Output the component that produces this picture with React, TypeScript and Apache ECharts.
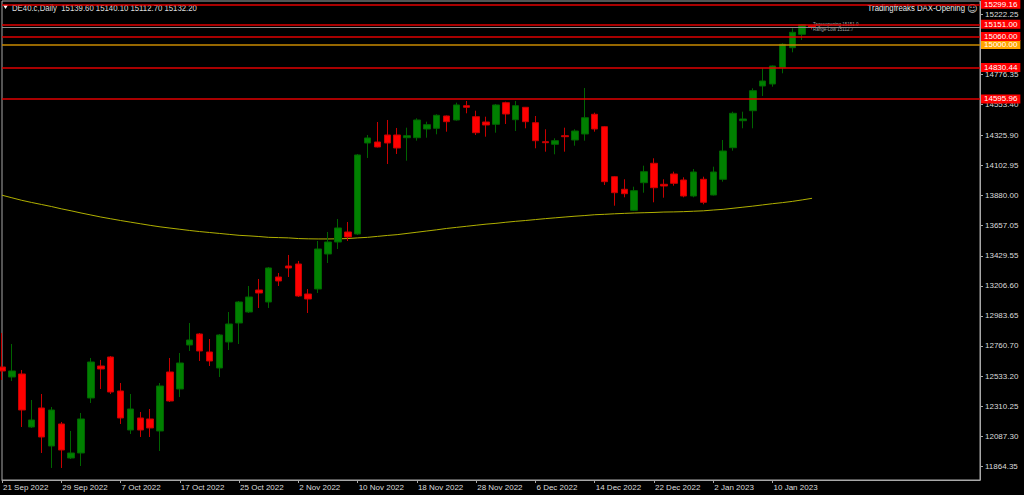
import React, { useEffect, useRef } from "react";
import * as echarts from "echarts";

const symbolName = "DE40.c,Daily";
const indicatorName = "Tradingfreaks DAX-Opening";

const dates = [
  "21 Sep 2022", "22 Sep 2022", "23 Sep 2022", "26 Sep 2022", "27 Sep 2022", "28 Sep 2022", "29 Sep 2022", "30 Sep 2022",
  "3 Oct 2022", "4 Oct 2022", "5 Oct 2022", "6 Oct 2022", "7 Oct 2022", "10 Oct 2022", "11 Oct 2022", "12 Oct 2022",
  "13 Oct 2022", "14 Oct 2022", "17 Oct 2022", "18 Oct 2022", "19 Oct 2022", "20 Oct 2022", "21 Oct 2022", "24 Oct 2022",
  "25 Oct 2022", "26 Oct 2022", "27 Oct 2022", "28 Oct 2022", "31 Oct 2022", "1 Nov 2022", "2 Nov 2022", "3 Nov 2022",
  "4 Nov 2022", "7 Nov 2022", "8 Nov 2022", "9 Nov 2022", "10 Nov 2022", "11 Nov 2022", "14 Nov 2022", "15 Nov 2022",
  "16 Nov 2022", "17 Nov 2022", "18 Nov 2022", "21 Nov 2022", "22 Nov 2022", "23 Nov 2022", "24 Nov 2022", "25 Nov 2022",
  "28 Nov 2022", "29 Nov 2022", "30 Nov 2022", "1 Dec 2022", "2 Dec 2022", "5 Dec 2022", "6 Dec 2022", "7 Dec 2022",
  "8 Dec 2022", "9 Dec 2022", "12 Dec 2022", "13 Dec 2022", "14 Dec 2022", "15 Dec 2022", "16 Dec 2022", "19 Dec 2022",
  "20 Dec 2022", "21 Dec 2022", "22 Dec 2022", "23 Dec 2022", "27 Dec 2022", "28 Dec 2022", "29 Dec 2022", "30 Dec 2022",
  "2 Jan 2023", "3 Jan 2023", "4 Jan 2023", "5 Jan 2023", "6 Jan 2023", "9 Jan 2023", "10 Jan 2023", "11 Jan 2023",
  "12 Jan 2023", "13 Jan 2023", "16 Jan 2023",
];

const opens = [
  12604.7, 12530.4, 12552.7, 12158.9, 12300.1, 12017.7, 12181.2, 11928.4, 11965.7, 12374.4,
  12612.1, 12679.0, 12426.4, 12136.6, 12225.8, 12218.5, 12129.2, 12567.5, 12441.2, 12768.2,
  12849.9, 12716.1, 12597.3, 12790.4, 12931.6, 13013.3, 13176.8, 13087.6, 13273.4, 13355.1,
  13370.0, 13147.1, 13184.2, 13444.3, 13533.4, 13607.7, 13592.9, 14269.0, 14276.4, 14328.4,
  14328.4, 14308.4, 14308.4, 14373.0, 14378.2, 14469.6, 14439.9, 14546.2, 14464.4, 14425.0,
  14408.0, 14568.4, 14442.1, 14534.3, 14419.8, 14278.7, 14259.3, 14323.3, 14291.3, 14335.9,
  14482.2, 14390.1, 14018.6, 13925.0, 13769.0, 13974.0, 14118.2, 13962.1, 14038.7, 13994.1,
  13875.2, 13999.3, 13882.6, 13999.3, 14234.1, 14434.7, 14509.0, 14692.5, 14707.4, 14828.5,
  14977.1, 15076.6, 15139.6,
];
const highs = [
  12857.3, 12775.6, 12582.4, 12359.5, 12404.1, 12307.5, 12196.0, 12129.2, 12263.0, 12671.6,
  12656.7, 12686.4, 12485.8, 12404.1, 12270.3, 12292.6, 12485.8, 12671.6, 12708.7, 12931.6,
  12857.3, 12812.7, 12849.9, 13013.3, 13095.1, 13206.5, 13258.5, 13347.7, 13303.1, 13436.9,
  13392.3, 13184.2, 13540.9, 13607.7, 13704.3, 13682.0, 14187.3, 14328.4, 14425.0, 14439.9,
  14380.5, 14382.7, 14452.5, 14427.3, 14482.2, 14473.3, 14568.4, 14581.1, 14509.0, 14464.4,
  14558.8, 14575.9, 14581.1, 14536.5, 14469.6, 14370.8, 14303.9, 14382.7, 14370.8, 14677.7,
  14494.1, 14395.3, 14023.8, 13999.3, 13944.3, 14100.3, 14155.3, 13999.3, 14055.7, 14014.1,
  14075.8, 14018.6, 14092.9, 14291.3, 14501.5, 14501.5, 14675.4, 14824.0, 14844.8, 15009.8,
  15121.2, 15153.2, 15140.1,
];
const lows = [
  12508.1, 12500.7, 12158.9, 12151.5, 11965.7, 11854.3, 11854.3, 11921.0, 11869.1, 12337.2,
  12441.2, 12404.1, 12181.2, 12107.0, 12084.6, 12084.6, 11980.6, 12344.6, 12381.8, 12723.6,
  12649.3, 12612.1, 12530.4, 12731.0, 12775.6, 13005.9, 13043.1, 13043.1, 13206.5, 13273.4,
  13124.8, 13005.9, 13154.5, 13377.4, 13481.4, 13540.9, 13585.5, 14157.6, 14235.6, 14113.0,
  14187.3, 14137.5, 14286.1, 14308.4, 14333.6, 14353.0, 14434.7, 14489.7, 14328.4, 14315.8,
  14345.5, 14410.2, 14358.2, 14378.2, 14229.6, 14204.4, 14185.0, 14204.4, 14249.0, 14286.1,
  14353.0, 13957.0, 13803.1, 13865.5, 13763.8, 13899.7, 13828.4, 13862.6, 13951.7, 13865.5,
  13865.5, 13813.5, 13878.9, 13981.5, 14211.8, 14378.2, 14378.2, 14618.2, 14687.3, 14786.9,
  14942.9, 15034.3, 15112.7,
];
const closes = [
  12575.0, 12575.0, 12285.2, 12211.1, 12084.6, 12285.2, 11988.0, 11965.7, 12218.5, 12641.8,
  12589.8, 12418.9, 12225.8, 12292.6, 12136.6, 12151.5, 12463.5, 12352.1, 12634.4, 12805.3,
  12723.6, 12649.3, 12842.5, 12924.2, 13087.6, 13124.8, 13154.5, 13340.3, 13243.7, 13340.3,
  13132.2, 13109.9, 13481.4, 13533.4, 13637.5, 13570.6, 14179.9, 14306.2, 14239.4, 14269.0,
  14231.9, 14323.3, 14439.9, 14405.0, 14474.8, 14427.3, 14551.4, 14534.3, 14345.5, 14402.8,
  14551.4, 14484.5, 14546.2, 14427.3, 14286.1, 14271.2, 14286.1, 14315.8, 14358.2, 14457.0,
  14373.0, 13981.5, 13899.7, 13892.3, 13914.6, 14055.7, 13936.9, 13949.5, 13969.5, 13875.2,
  14053.5, 13828.4, 14053.5, 14209.6, 14489.7, 14447.3, 14657.6, 14729.7, 14841.1, 15002.4,
  15091.5, 15148.0, 15132.2,
];
const movingAverage = [
  13881, 13862, 13843, 13827, 13812, 13797, 13780, 13765, 13749, 13734,
  13719, 13706, 13693, 13681, 13669, 13657, 13646, 13637, 13628, 13619,
  13611, 13604, 13597, 13590, 13583, 13579, 13574, 13568, 13566, 13564,
  13559, 13557, 13556, 13556, 13557, 13559, 13564, 13568, 13575, 13582,
  13588, 13597, 13606, 13615, 13624, 13634, 13642, 13650, 13658, 13666,
  13672, 13680, 13687, 13693, 13700, 13707, 13713, 13719, 13725, 13730,
  13736, 13739, 13743, 13746, 13749, 13751, 13753, 13756, 13757, 13759,
  13762, 13765, 13771, 13776, 13784, 13792, 13800, 13809, 13818, 13826,
  13835, 13846, 13858,
];

const redLevels = [15299.16, 15151.0, 15060.0, 14830.44, 14595.96];
const openingLevel = 15000.0;
const bidPrice = 15132.2;
const yTicks = [
  11864.35, 12087.3, 12310.25, 12533.2, 12760.7, 12983.65, 13206.6, 13429.55,
  13657.05, 13880.0, 14102.95, 14325.9, 14553.4, 14776.35, 15222.25,
];
const annotations = ["Tagesopening 15151.0", "Range-Low 15112.7"];
const futureSlots = 17;
const yMin = 11765;
const yMax = 15324;

const FONT = "'Liberation Sans', Arial, sans-serif";
const TEXT = "#dcdcdc";
const FRAME = "#a8a8a8";
const AXIS_FS = 8;
const NARROW = 0.82;

export default function App() {
  const ref = useRef<HTMLDivElement>(null);

  useEffect(() => {
    document.body.style.margin = "0";
    document.body.style.background = "#000";
    const chart = echarts.init(ref.current as HTMLDivElement, null, { renderer: "svg" });

    const categories = dates.concat(Array.from({ length: futureSlots }, () => ""));
    const candleData = dates.map((_, i) => [opens[i], closes[i], lows[i], highs[i]]);
    const last = dates.length - 1;
    const headline = `${symbolName}  ${opens[last].toFixed(2)} ${highs[last].toFixed(2)} ${lows[last].toFixed(2)} ${closes[last].toFixed(2)}`;
    const showIdx = (index: number) => index % 6 === 0 && index < dates.length;

    const lineLabel = (bg: string, fg: string) => ({
      show: true,
      position: "end",
      distance: 1,
      formatter: (p: any) => Number(p.value).toFixed(2),
      backgroundColor: bg,
      color: fg,
      fontSize: AXIS_FS,
      fontFamily: FONT,
      lineHeight: 9,
      padding: [0, 3, 0, 3],
    });

    const option: any = {
      animation: false,
      backgroundColor: "#000",
      grid: {
        left: 1,
        right: 44,
        top: 1,
        bottom: 15,
        show: true,
        borderColor: FRAME,
        borderWidth: 1,
        backgroundColor: "#000",
      },
      xAxis: {
        type: "category",
        data: categories,
        boundaryGap: false,
        axisLine: { lineStyle: { color: FRAME, width: 1 } },
        axisTick: { show: true, length: 3, interval: showIdx, lineStyle: { color: FRAME } },
        axisLabel: {
          interval: showIdx,
          align: "left",
          margin: 3,
          color: TEXT,
          fontSize: AXIS_FS,
          fontFamily: FONT,
          padding: [0, 0, 0, 1],
        },
        splitLine: { show: false },
      },
      yAxis: {
        type: "value",
        position: "right",
        min: yMin,
        max: yMax,
        axisLine: { show: true, lineStyle: { color: FRAME, width: 1 } },
        axisTick: { show: true, length: 3, customValues: yTicks, lineStyle: { color: FRAME } },
        axisLabel: {
          customValues: yTicks,
          formatter: (v: number) => v.toFixed(2),
          color: TEXT,
          fontSize: AXIS_FS,
          fontFamily: FONT,
          margin: 5,
          align: "left",
        },
        splitLine: { show: false },
      },
      series: [
        {
          type: "line",
          data: movingAverage,
          symbol: "none",
          lineStyle: { color: "#b0b000", width: 1 },
          silent: true,
          z: 1,
        },
        {
          type: "candlestick",
          data: candleData,
          barWidth: 7,
          itemStyle: {
            color: "#008000",
            color0: "#ff0000",
            borderColor: "#006400",
            borderColor0: "#c80000",
            borderWidth: 1,
          },
          z: 3,
          markLine: {
            silent: true,
            symbol: ["none", "none"],
            animation: false,
            data: [
              { yAxis: bidPrice, lineStyle: { color: "#8c8c8c", width: 1, type: "solid" }, label: { show: false } },
              { yAxis: openingLevel, lineStyle: { color: "#c88a00", width: 1.5, type: "solid" }, label: lineLabel("#ffa500", "#ffffff") },
              ...redLevels.map((v) => ({
                yAxis: v,
                lineStyle: { color: "#e00000", width: 1.5, type: "solid" },
                label: lineLabel("#ff0000", "#ffffff"),
              })),
            ],
          },
        },
      ],
      graphic: [
        { type: "polygon", shape: { points: [[3, 5], [8, 5], [5.5, 9]] }, style: { fill: "#ffffff" } },
        {
          type: "text",
          x: 12,
          y: 7.5,
          scaleX: NARROW,
          style: { text: headline, fill: TEXT, fontSize: 9.5, fontFamily: FONT, verticalAlign: "middle" },
        },
        {
          type: "text",
          x: 965,
          y: 8,
          scaleX: NARROW,
          style: { text: indicatorName, fill: "#e8e8e8", fontSize: 9.5, fontFamily: FONT, align: "right", verticalAlign: "middle" },
        },
        {
          type: "text",
          x: 967,
          y: 8,
          style: { text: "\u263A", fill: "#d0d0d0", fontSize: 10, fontFamily: "'DejaVu Sans', sans-serif", verticalAlign: "middle" },
        },
        {
          type: "text",
          x: 813,
          y: 24,
          style: { text: annotations[0], fill: "#a0a0a0", fontSize: 4.5, fontFamily: FONT, verticalAlign: "middle" },
        },
        {
          type: "text",
          x: 813,
          y: 29,
          style: { text: annotations[1], fill: "#a0a0a0", fontSize: 4.5, fontFamily: FONT, verticalAlign: "middle" },
        },
      ],
    };

    chart.setOption(option);
    return () => chart.dispose();
  }, []);

  return <div ref={ref} style={{ width: 1024, height: 495, background: "#000" }} />;
}
